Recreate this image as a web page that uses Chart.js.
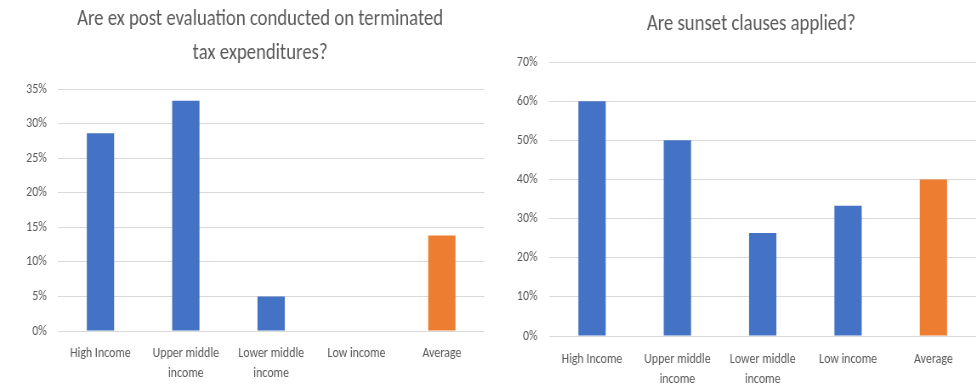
<!DOCTYPE html>
<html>
<head>
<meta charset="utf-8">
<script src="https://cdn.jsdelivr.net/npm/chart.js@4"></script>
<style>
  body { margin: 0; width: 978px; height: 387px; background: #fff; overflow: hidden; position: relative; }
  /* charts are laid out wide and squeezed horizontally, like the narrow Calibri look */
  .box { position: absolute; top: 0; height: 387px; transform: scaleX(0.85); transform-origin: 0 0; }
  #evalBox { left: 0; width: 612px; }
  #sunsetBox { left: 489px; width: 617px; }
</style>
</head>
<body>
<div class="box" id="evalBox"><canvas id="chartEval"></canvas></div>
<div class="box" id="sunsetBox"><canvas id="chartSunset"></canvas></div>
<script>
const categories = [["High Income"], ["Upper middle", "income"], ["Lower middle", "income"], ["Low income"], ["Average"]];
const evalValues = [28.6, 33.3, 5.0, 0, 13.8];
const sunsetValues = [60, 50, 26.3, 33.3, 40];
const evalTitle = ["Are ex post evaluation conducted on terminated", "tax expenditures?"];
const sunsetTitle = "Are sunset clauses applied?";
const evalAxis = { max: 35, step: 5 };
const sunsetAxis = { max: 70, step: 10 };

const BLUE = "#4472C4";
const ORANGE = "#ED7D31";
const TEXT = "#595959";
const GRID = "#D9D9D9";
const FONT = 'Carlito, "Liberation Sans", sans-serif';

const barColors = categories.map((c, i) => i === categories.length - 1 ? ORANGE : BLUE);

function makeChart(id, title, values, axis, opts) {
    return new Chart(document.getElementById(id), {
        type: "bar",
        data: {
            labels: categories,
            datasets: [{
                data: values,
                backgroundColor: barColors,
                categoryPercentage: 1,
                barPercentage: 0.32
            }]
        },
        options: {
            responsive: true,
            maintainAspectRatio: false,
            animation: false,
            layout: { padding: 0 },
            plugins: {
                legend: { display: false },
                tooltip: { enabled: false },
                title: {
                    display: true,
                    text: title,
                    color: TEXT,
                    font: { family: FONT, size: 22, weight: "normal", lineHeight: opts.titleLine },
                    padding: opts.titlePad
                }
            },
            scales: {
                x: {
                    grid: { display: false },
                    border: { display: false },
                    ticks: {
                        color: TEXT,
                        font: { family: FONT, size: 14, lineHeight: 20 / 14 },
                        padding: opts.xPad,
                        maxRotation: 0,
                        autoSkip: false
                    },
                    afterFit: s => { s.height = opts.xHeight; }
                },
                y: {
                    min: 0,
                    max: axis.max,
                    grid: { color: GRID, lineWidth: 1, drawTicks: false },
                    border: { display: false },
                    ticks: {
                        stepSize: axis.step,
                        color: TEXT,
                        font: { family: FONT, size: 14 },
                        padding: opts.yPad,
                        callback: v => v + "%"
                    },
                    afterFit: s => { s.width = opts.yWidth; }
                },
                // empty right-hand gutter so the title stays centred over the whole figure
                gutter: {
                    type: "linear",
                    position: "right",
                    grid: { display: false },
                    border: { display: false },
                    ticks: { display: false },
                    afterFit: s => { s.width = opts.gutter; }
                }
            }
        }
    });
}

makeChart("chartEval", evalTitle, evalValues, evalAxis, {
    titleLine: 34 / 22, titlePad: { top: 2, bottom: 19 },
    xPad: 4, xHeight: 56, yPad: 13, yWidth: 68, gutter: 42
});

makeChart("chartSunset", sunsetTitle, sunsetValues, sunsetAxis, {
    titleLine: 30 / 22, titlePad: { top: 9, bottom: 23 },
    xPad: 5, xHeight: 51, yPad: 14, yWidth: 71, gutter: 44
});
</script>
</body>
</html>
